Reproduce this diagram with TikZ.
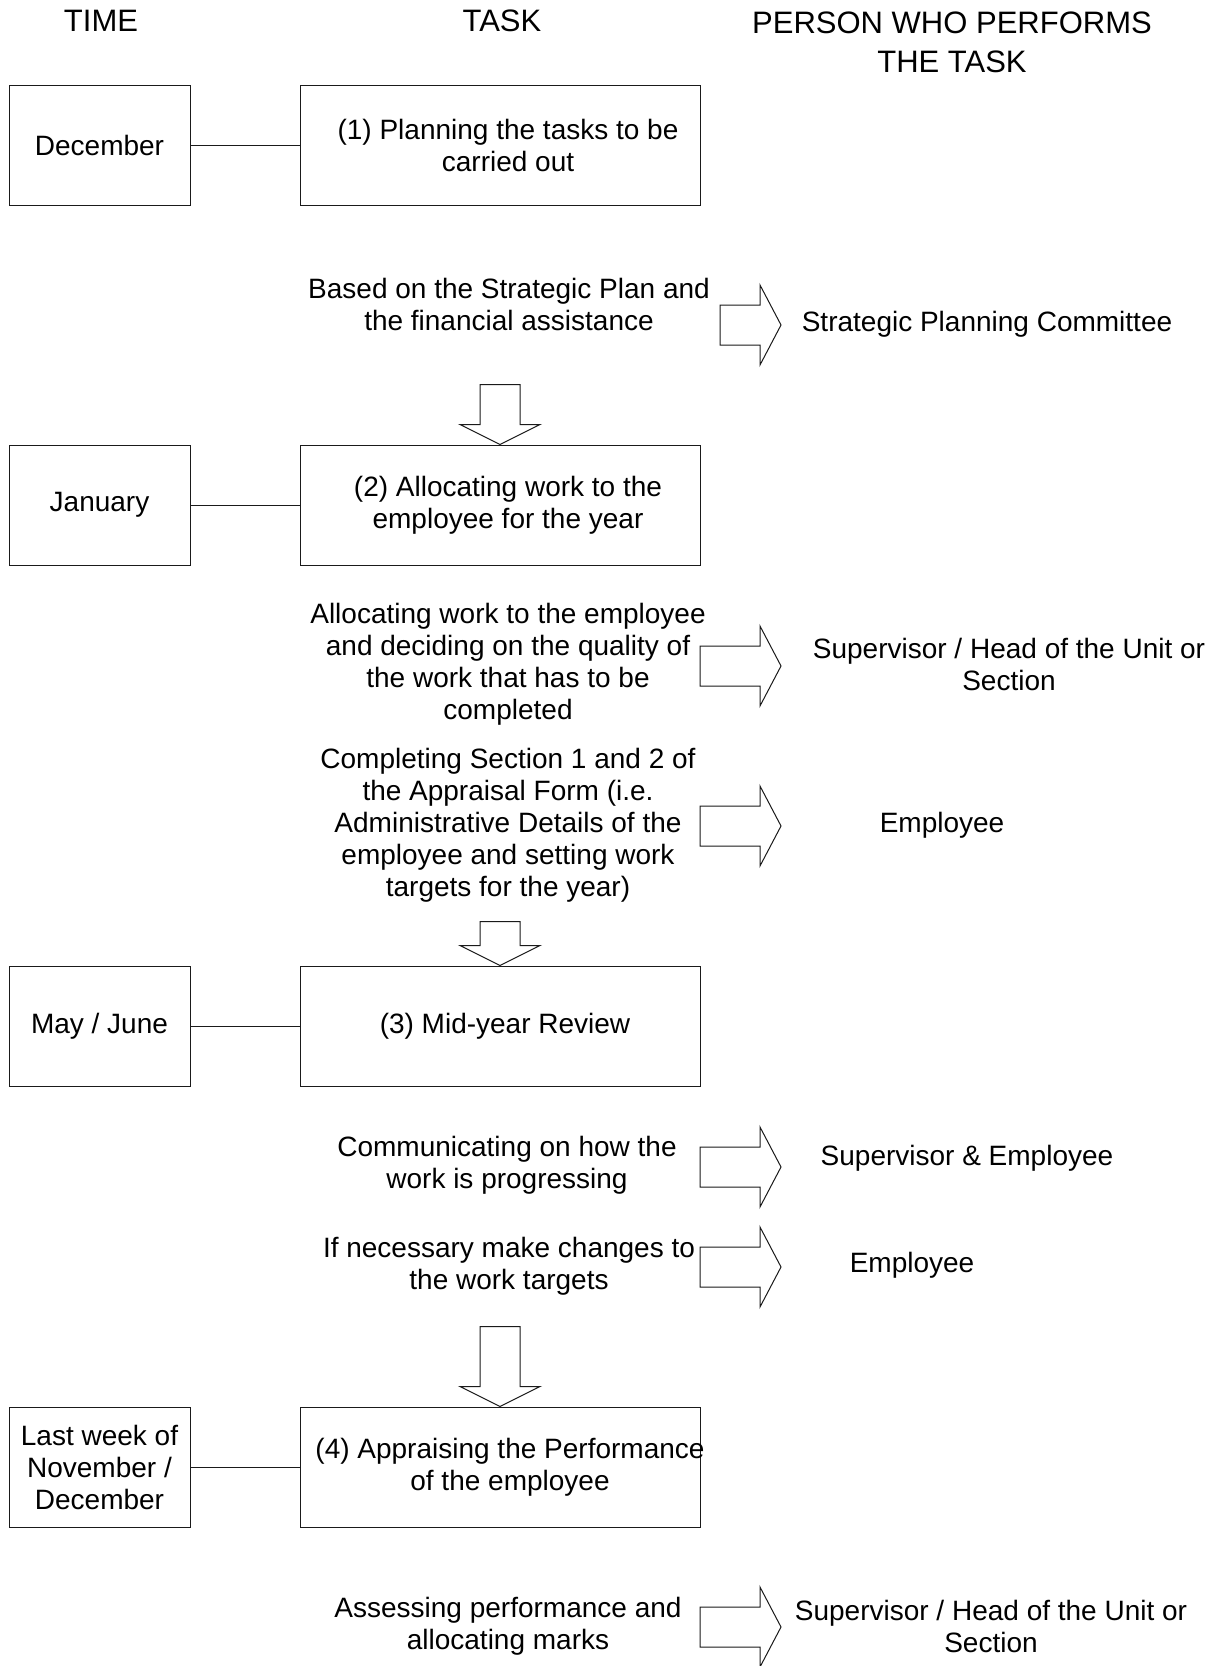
\documentclass[tikz,border=0pt]{standalone}
\usepackage{fontspec}
\setmainfont{Liberation Sans}
\definecolor{ink}{HTML}{000000}
\definecolor{edge}{HTML}{1A1A1A}
\newcommand{\headfont}{\fontsize{31}{39}\selectfont}
\newcommand{\bodyfont}{\fontsize{28}{32}\selectfont}
\newcommand{\blockright}[2]{%
  \draw[edge, line width=1pt] (#1,#2-20) -- (760,#2-20) -- (760,#2-40) -- (781,#2)
    -- (760,#2+40) -- (760,#2+20) -- (#1,#2+20) -- cycle;
}
\newcommand{\blockdown}[2]{%
  \draw[edge, line width=1pt] (#1.north) -- ++(-40,-20) -- ++(20,0) -- ++(0,{20-#2})
    -- ++(40,0) -- ++(0,{#2-20}) -- ++(20,0) -- cycle;
}

\begin{document}
\begin{tikzpicture}[x=1pt,y=-1pt,
  timebox/.style={draw=edge, line width=1pt, minimum width=181pt, minimum height=120pt,
    align=center, font=\bodyfont, text=ink, inner sep=0pt},
  taskbox/.style={draw=edge, line width=1pt, minimum width=400pt, minimum height=120pt, inner sep=0pt},
  body/.style={align=center, font=\bodyfont, text=ink, inner sep=0pt},
  head/.style={align=center, font=\headfont, text=ink, inner sep=0pt},
  link/.style={draw=edge, line width=1pt}]
  \fill[white] (0,0) rectangle (1218,1666);
  \useasboundingbox (0,0) rectangle (1218,1666);

  % Column headings.
  \node[head] (hTime) at (101,21) {TIME};
  \node[head] (hTask) at (502,21) {TASK};
  \node[head] (hPerson) at (952,42) {PERSON WHO PERFORMS\\THE TASK};

  % Step 1: planning in December.
  \node[timebox] (tm1) at (99.5,145) {December};
  \node[taskbox] (tk1) at (500,145) {};
  \node[body] (tk1txt) at (508,145) {(1) Planning the tasks to be\\carried out};
  \draw[link] (tm1) -- (tk1);
  \node[body] (d1) at (509,304) {Based on the Strategic Plan and\\the financial assistance};
  \blockright{720}{325}
  \node[body] (p1) at (987,324) {Strategic Planning Committee};

  % Step 2: allocating work in January.
  \node[timebox] (tm2) at (99.5,505) {January};
  \node[taskbox] (tk2) at (500,505) {};
  \node[body] (tk2txt) at (508,505) {(2) Allocating work to the\\employee for the year};
  \draw[link] (tm2) -- (tk2);
  \blockdown{tk2}{60}
  \node[body] (d2) at (508,664) {Allocating work to the employee\\and deciding on the quality of\\the work that has to be\\completed};
  \blockright{700}{666}
  \node[body] (p2) at (1009,664) {Supervisor / Head of the Unit or\\Section};
  \node[body] (d3) at (508,825) {Completing Section 1 and 2 of\\the Appraisal Form (i.e.\\Administrative Details of the\\employee and setting work\\targets for the year)};
  \blockright{700}{826}
  \node[body] (p3) at (942,825) {Employee};

  % Step 3: mid-year review.
  \node[timebox] (tm3) at (99.5,1026) {May / June};
  \node[taskbox] (tk3) at (500,1026) {};
  \node[body] (tk3txt) at (505,1026) {(3) Mid-year Review};
  \draw[link] (tm3) -- (tk3);
  \blockdown{tk3}{44}
  \node[body] (d4) at (507,1165) {Communicating on how the\\work is progressing};
  \blockright{700}{1167}
  \node[body] (p4) at (967,1158) {Supervisor \& Employee};
  \node[body] (d5) at (509,1266) {If necessary make changes to\\the work targets};
  \blockright{700}{1267}
  \node[body] (p5) at (912,1265) {Employee};

  % Step 4: appraisal at the end of the year.
  \node[timebox] (tm4) at (99.5,1467) {Last week of\\November /\\December};
  \node[taskbox] (tk4) at (500,1467) {};
  \node[body] (tk4txt) at (510,1467) {(4) Appraising the Performance\\of the employee};
  \draw[link] (tm4) -- (tk4);
  \blockdown{tk4}{80}
  \node[body] (d6) at (508,1626) {Assessing performance and\\allocating marks};
  \blockright{700}{1627}
  \node[body] (p6) at (991,1626) {Supervisor / Head of the Unit or\\Section};
\end{tikzpicture}
\end{document}
